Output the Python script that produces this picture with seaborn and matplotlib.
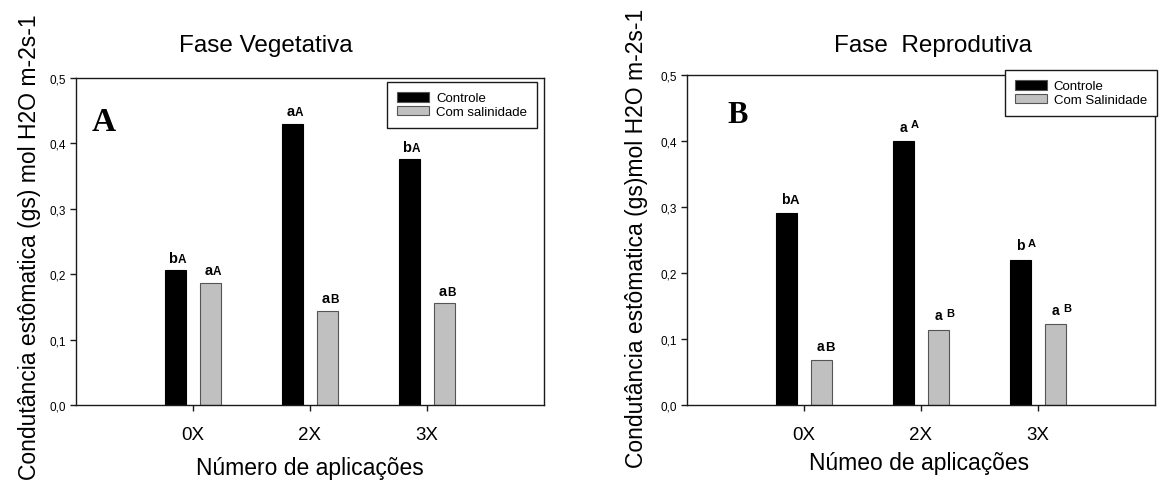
import matplotlib
matplotlib.use("Agg")
import matplotlib.pyplot as plt
import seaborn as sns
import pandas as pd

# --- data -------------------------------------------------------------------
applications = ["0X", "2X", "3X"]

veg_controle = [0.206, 0.430, 0.376]
veg_salinidade = [0.187, 0.144, 0.156]
veg_letters_controle = ["bA", "aA", "bA"]
veg_letters_salinidade = ["aA", "aB", "aB"]

rep_controle = [0.291, 0.400, 0.220]
rep_salinidade = [0.068, 0.114, 0.122]
rep_letters_controle = ["bA", "a A", "b A"]
rep_letters_salinidade = ["aB", "a B", "a B"]

y_ticks = [0.0, 0.1, 0.2, 0.3, 0.4, 0.5]
y_tick_labels = ["0,0", "0,1", "0,2", "0,3", "0,4", "0,5"]

# --- style ------------------------------------------------------------------
sns.set_style("ticks")
plt.rcParams["font.family"] = ["Liberation Sans", "DejaVu Sans"]
plt.rcParams["axes.edgecolor"] = "#1a1a1a"
plt.rcParams["axes.linewidth"] = 1.0
plt.rcParams["xtick.color"] = "#1a1a1a"
plt.rcParams["ytick.color"] = "#1a1a1a"
plt.rcParams["xtick.labelcolor"] = "black"
plt.rcParams["ytick.labelcolor"] = "black"
plt.rcParams["text.color"] = "black"
plt.rcParams["axes.labelcolor"] = "black"
plt.rcParams["axes.titlecolor"] = "black"

BLACK = "#000000"
GRAY = "#c0c0c0"

fig = plt.figure(figsize=(11.59, 4.85), dpi=100)
ax_a = fig.add_axes([0.06557, 0.16289, 0.40380, 0.67423])
ax_b = fig.add_axes([0.59275, 0.16289, 0.40380, 0.68041])


def long_table(controle, salinidade, sal_name):
    return pd.DataFrame({
        "aplicacoes": applications * 2,
        "gs": list(controle) + list(salinidade),
        "tratamento": ["Controle"] * len(applications) + [sal_name] * len(applications),
    })


def draw_panel(ax, controle, salinidade, sal_name):
    df = long_table(controle, salinidade, sal_name)
    sns.barplot(
        data=df, x="aplicacoes", y="gs", hue="tratamento",
        order=applications, hue_order=["Controle", sal_name],
        palette={"Controle": BLACK, sal_name: GRAY},
        width=0.6, gap=0.4, edgecolor="#555555", linewidth=0.8,
        errorbar=None, ax=ax, legend=True,
    )
    for bar in ax.containers[0]:
        bar.set_edgecolor(BLACK)
    ax.set_xlim(-1, 3)
    ax.set_ylim(0, 0.5)
    ax.set_yticks(y_ticks)
    ax.set_yticklabels(y_tick_labels)
    ax.tick_params(axis="y", labelsize=8.5, length=4, width=1, pad=3, direction="out")
    ax.tick_params(axis="x", labelsize=13.5, length=4, width=1, pad=11, direction="out")
    for side in ["top", "right", "left", "bottom"]:
        ax.spines[side].set_visible(True)


def mark_letters(ax, letters, seam, offset, low_size, cap_size, sup_size, raise_pt, sup_gap):
    for container, tags in zip(ax.containers, letters):
        for bar, tag in zip(container, tags):
            x = bar.get_x() + bar.get_width() / 2
            y = bar.get_height()
            low, cap = tag[0], tag[-1]
            spaced = " " in tag
            dx = seam + (1.0 if spaced else 0.0)
            ax.annotate(low, (x, y), xytext=(dx, offset), textcoords="offset points",
                        ha="right", va="baseline", fontsize=low_size, fontweight="bold")
            ax.annotate(cap, (x, y),
                        xytext=(dx + (sup_gap if spaced else 0.3), offset + (raise_pt if spaced else 0)),
                        textcoords="offset points", ha="left", va="baseline",
                        fontsize=sup_size if spaced else cap_size, fontweight="bold")


def legend_box(ax, labels, anchor):
    handles, _ = ax.get_legend_handles_labels()
    if ax.get_legend() is not None:
        ax.get_legend().remove()
    leg = ax.legend(handles, labels, loc="upper right", bbox_to_anchor=anchor,
                    bbox_transform=fig.transFigure, fontsize=9.5, frameon=True,
                    fancybox=False, framealpha=1, edgecolor="#1a1a1a",
                    borderpad=0.75, labelspacing=0.1, handlelength=2.4,
                    handleheight=0.75, handletextpad=0.55, borderaxespad=0)
    leg.get_frame().set_linewidth(1.0)
    leg.set_zorder(10)


# --- panel A: vegetative phase --------------------------------------------
draw_panel(ax_a, veg_controle, veg_salinidade, "Com salinidade")
mark_letters(ax_a, [veg_letters_controle, veg_letters_salinidade],
             seam=1.5, offset=6, low_size=10.5, cap_size=8.5, sup_size=8.5,
             raise_pt=0, sup_gap=0.3)
legend_box(ax_a, ["Controle", "Com salinidade"], (537 / 1159, 1 - 83 / 485))
ax_a.set_title("Fase Vegetativa", fontsize=17.5, x=0.405, y=1.058, va="baseline")
ax_a.set_xlabel("Número de aplicações", fontsize=16.5, va="baseline")
ax_a.xaxis.set_label_coords(0.5, -0.211)
ax_a.set_ylabel("Condutância estômatica (gs) mol H2O m-2s-1", fontsize=16.5, va="baseline")
ax_a.yaxis.set_label_coords(-0.0855, 0.486)
ax_a.text(0.0598, 0.841, "A", transform=ax_a.transAxes, ha="center", va="baseline",
          fontsize=24, fontweight="bold", family="Liberation Serif")

# --- panel B: reproductive phase ------------------------------------------
draw_panel(ax_b, rep_controle, rep_salinidade, "Com Salinidade")
mark_letters(ax_b, [rep_letters_controle, rep_letters_salinidade],
             seam=2.0, offset=7.5, low_size=10, cap_size=9.5, sup_size=8,
             raise_pt=2.5, sup_gap=2.5)
legend_box(ax_b, ["Controle", "Com Salinidade"], (1157 / 1159, 1 - 71 / 485))
ax_b.set_title("Fase  Reprodutiva", fontsize=17.5, x=0.525, y=1.048, va="baseline")
ax_b.set_xlabel("Númeo de aplicações", fontsize=16.5, va="baseline")
ax_b.xaxis.set_label_coords(0.496, -0.194)
ax_b.set_ylabel("Condutância estômatica (gs)mol H2O m-2s-1", fontsize=16.5, va="baseline")
ax_b.yaxis.set_label_coords(-0.094, 0.509)
ax_b.text(0.109, 0.858, "B", transform=ax_b.transAxes, ha="center", va="baseline",
          fontsize=22, fontweight="bold", family="Liberation Serif")

fig.savefig("out.png", dpi=100, facecolor="white")
